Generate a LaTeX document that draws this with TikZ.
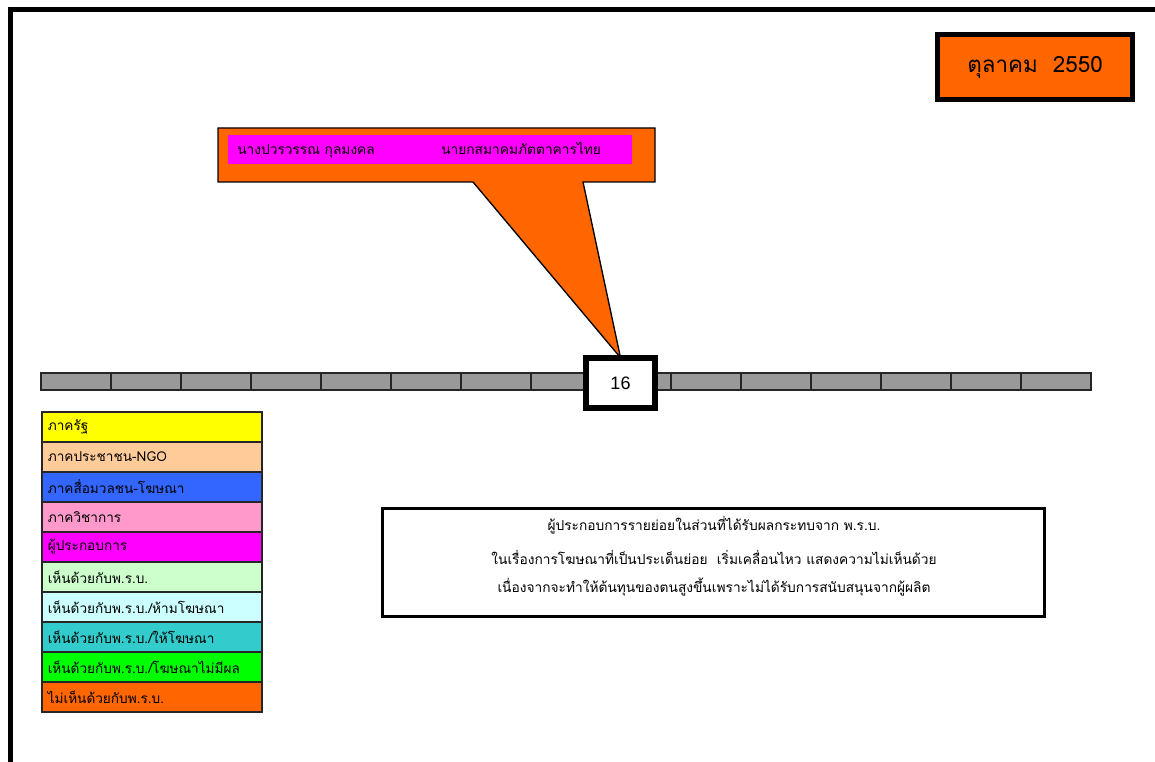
\documentclass[tikz,border=0pt]{standalone}
\usepackage{fontspec}
\setmainfont{Liberation Sans}
\newfontfamily\thaifont[Script=Thai]{Loma}
\definecolor{cOrange}{HTML}{FF6600}
\definecolor{cYellow}{HTML}{FFFF00}
\definecolor{cPeach}{HTML}{FFCC99}
\definecolor{cBlue}{HTML}{3366FF}
\definecolor{cPink}{HTML}{FF99CC}
\definecolor{cMagenta}{HTML}{FF00FF}
\definecolor{cLGreen}{HTML}{CCFFCC}
\definecolor{cLCyan}{HTML}{CCFFFF}
\definecolor{cTeal}{HTML}{33CCCC}
\definecolor{cGreen}{HTML}{00FF00}
\definecolor{cGray}{HTML}{999999}
\tikzset{
  legrow/.style={draw=black!85, line width=1.2pt, anchor=north west,
    minimum width={220*0.75pt}, minimum height={30*0.75pt},
    text width={208*0.75pt}, inner xsep={6*0.75pt}, inner ysep=0pt, align=left,
    font=\thaifont\fontsize{10.2}{12}\selectfont},
  cell/.style={draw=black!85, fill=cGray, line width=1.3pt, anchor=north west,
    minimum width={70*0.75pt}, minimum height={17*0.75pt}, inner sep=0pt},
  thickbox/.style={draw=black, line width={5*0.75pt}},
  bodytext/.style={font=\thaifont\fontsize{10.3}{12}\selectfont, inner sep=0pt}
}
\begin{document}
\begin{tikzpicture}[x=0.75pt, y=-0.75pt]
\useasboundingbox (0,0) rectangle (1155,762);
% frame
\coordinate (ftl) at (10,10);
\coordinate (ftr) at (1155,10);
\coordinate (fbl) at (10,762);
\draw[line width={5*0.75pt}, line cap=rect] (ftr) -- (ftl) -- (fbl);

% date box
\node[thickbox, fill=cOrange, anchor=north west, minimum width={195*0.75pt}, minimum height={65*0.75pt},
  font=\thaifont\fontsize{16.8}{19}\selectfont] (date) at (935,32) {ตุลาคม\ \ 2550};

% timeline cells
\foreach \i in {0,...,14} {
  \node[cell] (c\i) at ({40+70*\i},372) {};
}
% box 16
\node[thickbox, line width={6*0.75pt}, fill=white, anchor=north west, minimum width={69*0.75pt}, minimum height={50*0.75pt},
  font=\fontsize{13.5}{15}\selectfont] (d16) at (583,355) {16};

% callout
\coordinate (k1) at (218,128);
\coordinate (k2) at (655,128);
\coordinate (k3) at (655,182);
\coordinate (k4) at (583,182);
\coordinate (k5) at (473,182);
\coordinate (k6) at (218,182);
\filldraw[fill=cOrange, draw=black, line width=1pt, line join=miter]
  (k1) -- (k2) -- (k3) -- (k4) -- ([yshift=-2pt]d16.north) -- (k5) -- (k6) -- cycle;
\node[fill=cMagenta, anchor=north west, minimum width={404*0.75pt}, minimum height={29*0.75pt}, inner sep=0pt] (strip) at (228,135) {};
\node[bodytext, anchor=base west] (name) at (237,155) {นางปวรวรรณ กุลมงคล};
\node[bodytext, anchor=base west] (role) at (441,155) {นายกสมาคมภัตตาคารไทย};

% legend
\node[legrow, fill=cYellow]  (l1)  at (41,411) {ภาครัฐ};
\node[legrow, fill=cPeach]   (l2)  at (41,441) {ภาคประชาชน-NGO};
\node[legrow, fill=cBlue]    (l3)  at (41,471) {ภาคสื่อมวลชน-โฆษณา};
\node[legrow, fill=cPink]    (l4)  at (41,501) {ภาควิชาการ};
\node[legrow, fill=cMagenta] (l5)  at (41,531) {ผู้ประกอบการ};
\node[legrow, fill=cLGreen]  (l6)  at (41,561) {เห็นด้วยกับพ.ร.บ.};
\node[legrow, fill=cLCyan]   (l7)  at (41,591) {เห็นด้วยกับพ.ร.บ./ห้ามโฆษณา};
\node[legrow, fill=cTeal]    (l8)  at (41,621) {เห็นด้วยกับพ.ร.บ./ให้โฆษณา};
\node[legrow, fill=cGreen]   (l9)  at (41,651) {เห็นด้วยกับพ.ร.บ./โฆษณาไม่มีผล};
\node[legrow, fill=cOrange]  (l10) at (41,681) {ไม่เห็นด้วยกับพ.ร.บ.};

% text box
\node[draw=black, line width={3*0.75pt}, anchor=north west, minimum width={662*0.75pt}, minimum height={108*0.75pt}, inner sep=0pt] (tb) at (381,507) {};
\node[bodytext] (t1) at (714,525) {ผู้ประกอบการรายย่อยในส่วนที่ได้รับผลกระทบจาก พ.ร.บ.};
\node[bodytext] (t2) at (714,557) {ในเรื่องการโฆษณาที่เป็นประเด็นย่อย\ \ เริ่มเคลื่อนไหว แสดงความไม่เห็นด้วย};
\node[bodytext] (t3) at (714,587) {เนื่องจากจะทำให้ต้นทุนของตนสูงขึ้นเพราะไม่ได้รับการสนับสนุนจากผู้ผลิต};
\end{tikzpicture}
\end{document}
